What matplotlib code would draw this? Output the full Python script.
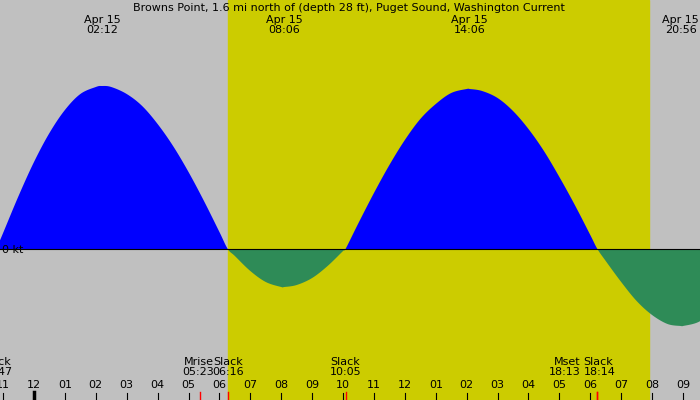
import matplotlib
matplotlib.use("Agg")
import matplotlib.pyplot as plt
import numpy as np

hours = [-1.22,-1.0,-0.5,0,0.5,1,1.5,2,2.2,2.5,3,3.5,4,4.5,5,5.5,6,6.27,6.5,7,7.5,8,8.1,8.5,9,9.5,10,10.08,
         10.5,11,11.5,12,12.5,13,13.5,14,14.1,14.5,15,15.5,16,16.5,17,17.5,18,18.23,18.5,19,19.5,20,20.5,20.93,21,21.5,22]
speed = [0,0.16,0.53,0.87,1.16,1.39,1.55,1.62,1.63,1.62,1.55,1.43,1.25,1.03,0.77,0.48,0.17,0,-0.07,-0.22,-0.33,-0.38,-0.38,-0.36,-0.29,-0.17,-0.02,0,
         0.26,0.56,0.84,1.09,1.30,1.45,1.56,1.60,1.60,1.58,1.51,1.38,1.20,0.98,0.72,0.44,0.14,0,-0.12,-0.33,-0.52,-0.66,-0.75,-0.77,-0.77,-0.73,-0.62]
sunrise, sunset = 6.27, 19.9
top_events = [(2.2, "Apr 15\n02:12"), (8.1, "Apr 15\n08:06"), (14.1, "Apr 15\n14:06"), (20.93, "Apr 15\n20:56")]
bottom_events = [(-1.22, "Slack\n22:47"), (5.38, "Mrise\n05:23"), (6.27, "Slack\n06:16"), (10.08, "Slack\n10:05"),
                 (18.22, "Mset\n18:13"), (18.23, "Slack\n18:14")]
red_marks = [5.38, 6.27, 10.08, 18.22, 18.23]
tick_hours = list(range(-1, 22))
tick_labels = ["11","12","01","02","03","04","05","06","07","08","09","10","11","12","01","02","03","04","05","06","07","08","09"]

def smooth(x, y, n=12):
    # Catmull-Rom drawing of the sampled curve
    x = np.asarray(x, float); y = np.asarray(y, float)
    P = np.column_stack([x, y])
    P = np.vstack([P[0], P, P[-1]])
    out = []
    t = np.linspace(0, 1, n, endpoint=False)[:, None]
    for i in range(1, len(P) - 2):
        p0, p1, p2, p3 = P[i-1], P[i], P[i+1], P[i+2]
        c = 0.5 * ((2*p1) + (-p0+p2)*t + (2*p0-5*p1+4*p2-p3)*t**2 + (-p0+3*p1-3*p2+p3)*t**3)
        out.append(c)
    out.append(P[-2][None])
    o = np.vstack(out)
    return o[:, 0], o[:, 1]

fig = plt.figure(figsize=(7, 4), dpi=100)
ax = fig.add_axes([0, 0, 1, 1])
ax.set_xlim(-1.1, 21.55)
ax.set_ylim(-1.51, 2.49)
ax.axis("off")
fig.patch.set_facecolor("#c0c0c0")
ax.axvspan(sunrise, sunset, color="#cccc00", zorder=0)
h, s = smooth(hours, speed)
ax.fill_between(h, 0, s, where=s >= 0, color="#0000ff", interpolate=True, zorder=2, lw=0)
ax.fill_between(h, 0, s, where=s <= 0, color="#2e8b57", interpolate=True, zorder=2, lw=0)
ax.axhline(0, color="black", lw=0.8, zorder=3)
ax.text(-1.05, -0.01, "0 kt", fontsize=8, va="center", ha="left", zorder=4)

fs = 8
ax.text(10.2, 2.41, "Browns Point, 1.6 mi north of (depth 28 ft), Puget Sound, Washington Current",
        ha="center", va="center", fontsize=fs)
for x, t in top_events:
    ax.text(x, 2.24, t, ha="center", va="center", fontsize=fs, linespacing=1.0)
for x, t in bottom_events:
    ha = "center"
    if t.startswith("Mrise"):
        x = 6.27 - 0.45; ha = "right"
    if t.startswith("Mset"):
        x = 18.23 - 0.55; ha = "right"
    if t.startswith("Slack") and x > 18:
        ha = "left"; x = 18.23 - 0.45
    ax.text(x, -1.18, t, ha=ha, va="center", fontsize=fs, linespacing=1.0)
for x, t in zip(tick_hours, tick_labels):
    ax.text(x, -1.36, t, ha="center", va="center", fontsize=fs)
    ax.plot([x, x], [-1.44, -1.51], color="black", lw=0.8)
ax.plot([0, 0], [-1.43, -1.51], color="black", lw=2.5)
for x in red_marks:
    ax.plot([x, x], [-1.43, -1.51], color="red", lw=1)
fig.savefig("out.png", dpi=100, facecolor=fig.get_facecolor())
